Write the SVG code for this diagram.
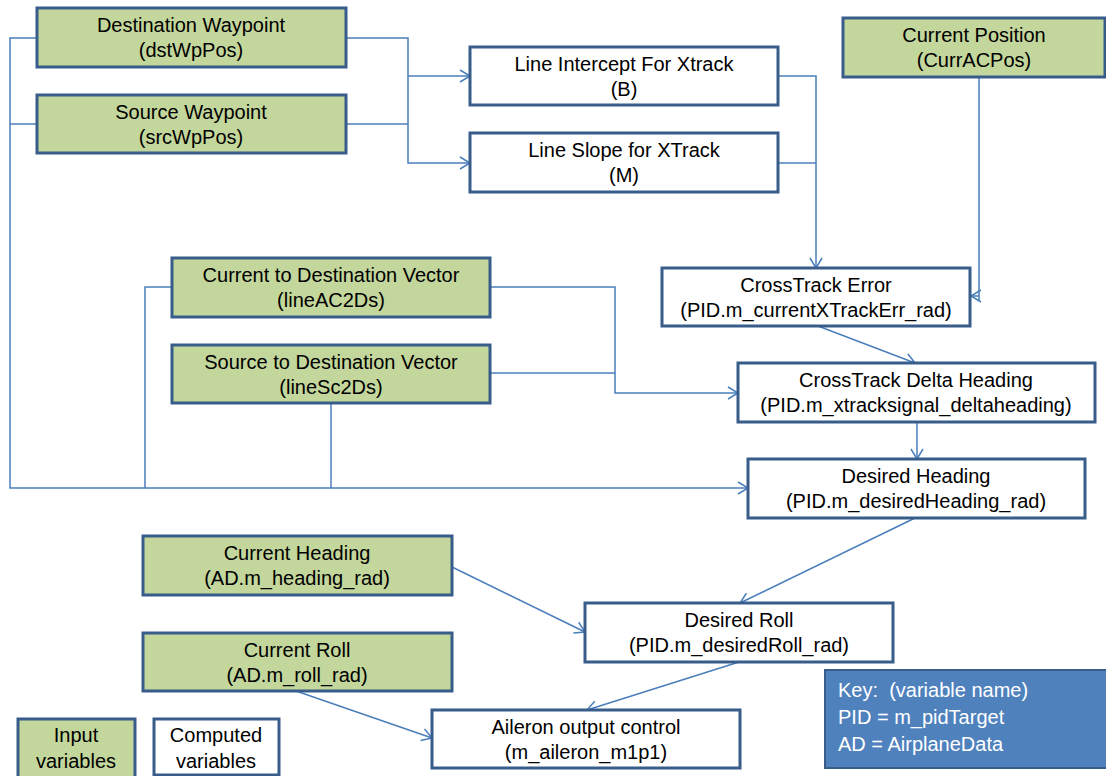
<svg xmlns="http://www.w3.org/2000/svg" width="1106" height="776" viewBox="0 0 1106 776">
  <style>
    .in rect { fill: #C3D69B; stroke: #385D8A; stroke-width: 3; }
    .calc rect { fill: #FFFFFF; stroke: #385D8A; stroke-width: 3; }
    .key rect { fill: #4F81BD; stroke: #385D8A; stroke-width: 2; }
    text { font-family: "Liberation Sans", Arial, sans-serif; font-size: 20px; fill: #000; }
    .c { text-anchor: middle; }
    .key text { fill: #FFFFFF; white-space: pre; }
    #connectors path { fill: none; stroke: #4A7EBB; stroke-width: 1.5; }
  </style>
  <defs>
    <marker id="arrow" markerUnits="userSpaceOnUse" markerWidth="12" markerHeight="14" refX="10" refY="6" orient="auto" overflow="visible">
      <path d="M0,0 L10,6 L0,12" fill="none" stroke="#4A7EBB" stroke-width="1.5"/>
    </marker>
  </defs>

  <rect width="1106" height="776" fill="#FFFFFF"/>

  <g id="connectors">
    <!-- waypoints feed both line computations -->
    <path d="M346,38 H408 V163 H470" marker-end="url(#arrow)"/>
    <path d="M346,124 H408"/>
    <path d="M408,76 H470" marker-end="url(#arrow)"/>
    <!-- intercept and slope into crosstrack error -->
    <path d="M778,76 H816 V268" marker-end="url(#arrow)"/>
    <path d="M778,163 H816"/>
    <!-- current position into crosstrack error -->
    <path d="M979,77 V301 M979,296 H971" marker-end="url(#arrow)"/>
    <!-- vectors into crosstrack delta heading -->
    <path d="M490,287 H615 V393 H738" marker-end="url(#arrow)"/>
    <path d="M490,373 H615"/>
    <!-- crosstrack error into delta heading -->
    <path d="M818,326 L915,363" marker-end="url(#arrow)"/>
    <!-- delta heading into desired heading -->
    <path d="M917,422 V459" marker-end="url(#arrow)"/>
    <!-- left bus into desired heading -->
    <path d="M37,38 H10 V488 H748" marker-end="url(#arrow)"/>
    <path d="M37,124 H10"/>
    <path d="M172,287 H145 V488"/>
    <path d="M331,403 V488"/>
    <!-- desired heading and current heading into desired roll -->
    <path d="M915,518 L740,603" marker-end="url(#arrow)"/>
    <path d="M452,567 L585,632" marker-end="url(#arrow)"/>
    <!-- desired roll and current roll into aileron output -->
    <path d="M739,662 L587,710" marker-end="url(#arrow)"/>
    <path d="M296,691 L432,738" marker-end="url(#arrow)"/>
  </g>

  <g id="dstWpPos" class="in">
    <rect x="37" y="8" width="309" height="59"/>
    <text class="c" x="191" y="32">Destination Waypoint</text>
    <text class="c" x="191" y="57">(dstWpPos)</text>
  </g>
  <g id="srcWpPos" class="in">
    <rect x="37" y="95" width="309" height="58"/>
    <text class="c" x="191" y="119">Source Waypoint</text>
    <text class="c" x="191" y="144">(srcWpPos)</text>
  </g>
  <g id="lineIntercept" class="calc">
    <rect x="470" y="47" width="308" height="58"/>
    <text class="c" x="624" y="71">Line Intercept For Xtrack</text>
    <text class="c" x="624" y="96">(B)</text>
  </g>
  <g id="lineSlope" class="calc">
    <rect x="470" y="133" width="308" height="59"/>
    <text class="c" x="624" y="157">Line Slope for XTrack</text>
    <text class="c" x="624" y="182">(M)</text>
  </g>
  <g id="currACPos" class="in">
    <rect x="843" y="18" width="262" height="59"/>
    <text class="c" x="974" y="42">Current Position</text>
    <text class="c" x="974" y="67">(CurrACPos)</text>
  </g>
  <g id="lineAC2Ds" class="in">
    <rect x="172" y="258" width="318" height="59"/>
    <text class="c" x="331" y="282">Current to Destination Vector</text>
    <text class="c" x="331" y="307">(lineAC2Ds)</text>
  </g>
  <g id="lineSc2Ds" class="in">
    <rect x="172" y="345" width="318" height="58"/>
    <text class="c" x="331" y="369">Source to Destination Vector</text>
    <text class="c" x="331" y="394">(lineSc2Ds)</text>
  </g>
  <g id="xtrackErr" class="calc">
    <rect x="662" y="268" width="308" height="58"/>
    <text class="c" x="816" y="292">CrossTrack Error</text>
    <text class="c" x="816" y="317">(PID.m_currentXTrackErr_rad)</text>
  </g>
  <g id="xtrackDelta" class="calc">
    <rect x="738" y="363" width="357" height="59"/>
    <text class="c" x="916" y="387">CrossTrack Delta Heading</text>
    <text class="c" x="916" y="412">(PID.m_xtracksignal_deltaheading)</text>
  </g>
  <g id="desiredHeading" class="calc">
    <rect x="748" y="459" width="337" height="59"/>
    <text class="c" x="916" y="483">Desired Heading</text>
    <text class="c" x="916" y="508">(PID.m_desiredHeading_rad)</text>
  </g>
  <g id="currHeading" class="in">
    <rect x="143" y="536" width="309" height="59"/>
    <text class="c" x="297" y="560">Current Heading</text>
    <text class="c" x="297" y="585">(AD.m_heading_rad)</text>
  </g>
  <g id="desiredRoll" class="calc">
    <rect x="585" y="603" width="308" height="59"/>
    <text class="c" x="739" y="627">Desired Roll</text>
    <text class="c" x="739" y="652">(PID.m_desiredRoll_rad)</text>
  </g>
  <g id="currRoll" class="in">
    <rect x="143" y="633" width="309" height="58"/>
    <text class="c" x="297" y="657">Current Roll</text>
    <text class="c" x="297" y="682">(AD.m_roll_rad)</text>
  </g>
  <g id="aileron" class="calc">
    <rect x="432" y="710" width="308" height="58"/>
    <text class="c" x="586" y="734">Aileron output control</text>
    <text class="c" x="586" y="759">(m_aileron_m1p1)</text>
  </g>
  <g id="keyBox" class="key">
    <rect x="825" y="670" width="285" height="98"/>
    <text x="838" y="697">Key:  (variable name)</text>
    <text x="838" y="724">PID = m_pidTarget</text>
    <text x="838" y="751">AD = AirplaneData</text>
  </g>
  <g id="legendInput" class="in">
    <rect x="18" y="719" width="117" height="62"/>
    <text class="c" x="76" y="742">Input</text>
    <text class="c" x="76" y="768">variables</text>
  </g>
  <g id="legendComputed" class="calc">
    <rect x="154" y="719" width="125" height="56"/>
    <text class="c" x="216" y="742">Computed</text>
    <text class="c" x="216" y="768">variables</text>
  </g>
</svg>
